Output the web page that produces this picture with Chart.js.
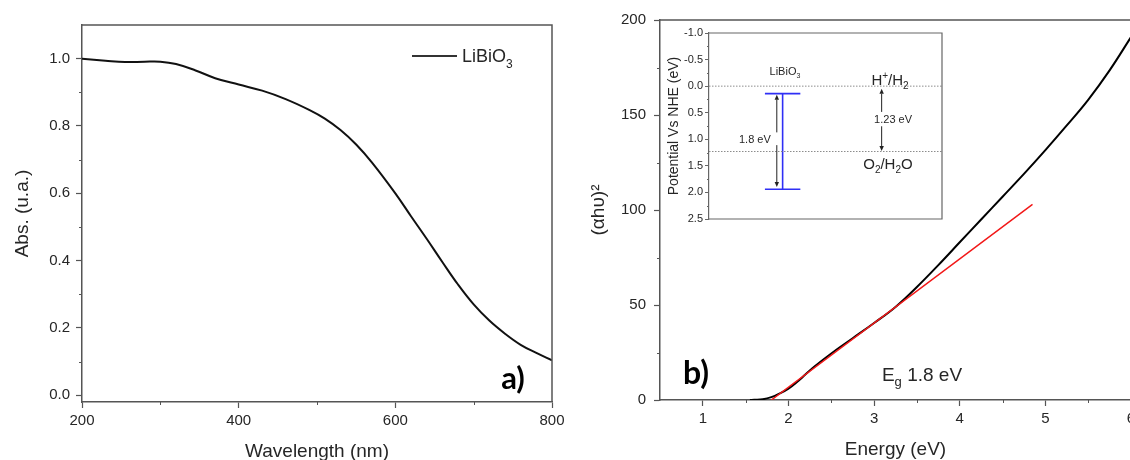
<!DOCTYPE html>
<html>
<head>
<meta charset="utf-8">
<script src="https://cdn.jsdelivr.net/npm/chart.js@4.4.1/dist/chart.umd.min.js"></script>
<style>
  html, body { margin: 0; padding: 0; background: #fff; overflow: hidden; }
  body { width: 1130px; height: 460px; position: relative; }
  canvas { position: absolute; }
  #absChart { left: 0; top: 0; }
  #taucChart { left: 580px; top: 0; }
  #bandChart { left: 660px; top: 25px; }
</style>
</head>
<body>
<canvas id="absChart" width="575" height="460"></canvas>
<canvas id="taucChart" width="575" height="460"></canvas>
<canvas id="bandChart" width="290" height="200"></canvas>
<script>
// a) UV-vis absorbance of LiBiO3
const wavelength = [200, 230, 255, 280, 300, 320, 345, 370, 400, 430, 460, 490, 510, 530, 550, 570, 600, 620, 640, 660, 680, 700, 720, 740, 760, 780, 800];
const absorbance = [1.000, 0.994, 0.990, 0.991, 0.991, 0.984, 0.965, 0.942, 0.923, 0.905, 0.880, 0.848, 0.822, 0.788, 0.745, 0.692, 0.600, 0.532, 0.465, 0.396, 0.329, 0.270, 0.222, 0.183, 0.150, 0.126, 0.104];
const absTicksX = [200, 400, 600, 800];
const absTicksY = [0, 0.2, 0.4, 0.6, 0.8, 1.0];

// b) Tauc plot and linear fit of the absorption edge
const energy = [1.55, 1.6, 1.7, 1.8, 1.9, 2.0, 2.1, 2.2, 2.3, 2.5, 2.75, 3.0, 3.25, 3.5, 3.75, 4.0, 4.25, 4.5, 4.75, 5.0, 5.25, 5.5, 5.75, 6.0];
const tauc = [0, 0.1, 0.4, 1.5, 3.5, 6, 9.5, 13.5, 17.5, 24.5, 32.5, 40.5, 49, 59.5, 71, 83, 95, 107, 119, 131.5, 144.5, 158, 173.5, 191];
const bandGap = 1.8;
const fitEnergy = [bandGap, 4.85];
const fitTauc = [0, 103];
const taucTicksX = [1, 2, 3, 4, 5, 6];
const taucTicksY = [0, 50, 100, 150, 200];

// inset: band edges vs NHE (eV)
const cbEdge = 0.14;
const vbEdge = cbEdge + bandGap;
const h2Level = 0.0;
const o2Level = 1.23;
const bandTicksY = [-1.0, -0.5, 0.0, 0.5, 1.0, 1.5, 2.0, 2.5];

const FONT = '"Liberation Sans", Arial, sans-serif';
const AXIS = '#555';
const TEXT = '#262626';
Chart.defaults.font.family = FONT;
Chart.defaults.color = TEXT;

function fixSize(size) {
  return scale => {
    if (scale.isHorizontal()) scale.height = size; else scale.width = size;
    scale.paddingLeft = scale.paddingRight = scale.paddingTop = scale.paddingBottom = 0;
  };
}
function useTicks(values) {
  return scale => { scale.ticks = values.map(v => ({ value: v })); };
}

// text with sub/superscripts; parts = [[text, ''|'sub'|'sup'], ...]
function drawRich(ctx, parts, x, y, size, opts = {}) {
  const family = opts.family || FONT;
  const weight = opts.weight || 'normal';
  const small = Math.round(size * 0.66);
  const fontFor = k => `${weight} ${k ? small : size}px ${family}`;
  let width = 0;
  for (const [t, k] of parts) { ctx.font = fontFor(k); width += ctx.measureText(t).width; }
  let cx = opts.align === 'left' ? x : x - width / 2;
  const base = y + size * 0.36;
  ctx.save();
  ctx.fillStyle = opts.color || TEXT;
  ctx.textAlign = 'left';
  ctx.textBaseline = 'alphabetic';
  for (const [t, k] of parts) {
    ctx.font = fontFor(k);
    const dy = k === 'sub' ? size * 0.28 : k === 'sup' ? -size * 0.4 : 0;
    ctx.fillText(t, cx, base + dy);
    cx += ctx.measureText(t).width;
  }
  ctx.restore();
}

function arrow(ctx, x, y1, y2, head) {
  const dir = Math.sign(y2 - y1);
  ctx.beginPath();
  ctx.moveTo(x, y1);
  ctx.lineTo(x, y2 - dir * head);
  ctx.stroke();
  ctx.beginPath();
  ctx.moveTo(x, y2);
  ctx.lineTo(x - 2.2, y2 - dir * head);
  ctx.lineTo(x + 2.2, y2 - dir * head);
  ctx.closePath();
  ctx.fill();
}

// minor ticks and the remaining edges of the frame
const framePlugin = {
  id: 'frame',
  afterDraw(chart, args, opts) {
    const { ctx, chartArea: a } = chart;
    ctx.save();
    ctx.strokeStyle = opts.color;
    ctx.lineWidth = opts.width;
    ctx.beginPath();
    ctx.moveTo(a.left, a.top);
    ctx.lineTo(a.right, a.top);
    ctx.lineTo(a.right, a.bottom);
    if (opts.bottom) ctx.lineTo(a.left, a.bottom);
    ctx.stroke();
    ctx.lineWidth = 1;
    for (const [id, m] of Object.entries(opts.minor || {})) {
      const s = chart.scales[id];
      for (let v = m.from; v <= m.to + 1e-9; v += m.step) {
        const p = Math.round(s.getPixelForValue(v)) + 0.5;
        ctx.beginPath();
        if (s.isHorizontal()) { ctx.moveTo(p, a.bottom); ctx.lineTo(p, a.bottom + m.len); }
        else { ctx.moveTo(a.left - m.len, p); ctx.lineTo(a.left, p); }
        ctx.stroke();
      }
    }
    ctx.restore();
  }
};

function axisStyle(tickLen, size, pad) {
  return {
    border: { color: AXIS, width: 1.5 },
    grid: { drawOnChartArea: false, drawTicks: true, tickLength: tickLen, tickColor: AXIS, tickWidth: 1.2 },
    ticks: { font: { size: size }, color: TEXT, padding: pad, autoSkip: false, maxRotation: 0, includeBounds: false }
  };
}

const baseOpts = {
  responsive: false,
  devicePixelRatio: 1,
  animation: false,
  events: [],
  plugins: { legend: { display: false }, tooltip: { enabled: false } }
};

// ---------- a) absorbance ----------
const absX = axisStyle(6, 15, 4);
const absY = axisStyle(6, 15, 6);
new Chart(document.getElementById('absChart'), {
  type: 'line',
  data: {
    datasets: [{
      data: wavelength.map((w, i) => ({ x: w, y: absorbance[i] })),
      borderColor: '#111',
      borderWidth: 2,
      pointRadius: 0,
      tension: 0.4
    }]
  },
  options: {
    ...baseOpts,
    layout: { padding: { top: 25, right: 23, bottom: 0, left: 0 } },
    scales: {
      x: {
        type: 'linear', min: 200, max: 800, ...absX,
        afterBuildTicks: useTicks(absTicksX), afterFit: fixSize(58),
        title: { display: true, text: 'Wavelength (nm)', font: { size: 19 }, color: TEXT, padding: { top: 0, bottom: -3 } }
      },
      y: {
        type: 'linear', min: -0.02, max: 1.1, ...absY,
        ticks: { ...absY.ticks, callback: v => v.toFixed(1) },
        afterBuildTicks: useTicks(absTicksY), afterFit: fixSize(82),
        title: { display: true, text: 'Abs. (u.a.)', font: { size: 19 }, color: TEXT, padding: { top: 11, bottom: 0 } }
      }
    },
    plugins: {
      ...baseOpts.plugins,
      frame: {
        color: AXIS, width: 1.5,
        minor: { x: { from: 300, to: 700, step: 200, len: 3 }, y: { from: 0.1, to: 0.9, step: 0.2, len: 3 } }
      }
    }
  },
  plugins: [framePlugin, {
    id: 'absLabels',
    afterDraw(chart) {
      const { ctx, chartArea: a } = chart;
      ctx.save();
      ctx.strokeStyle = '#333';
      ctx.lineWidth = 2;
      ctx.beginPath();
      ctx.moveTo(a.right - 140, a.top + 31);
      ctx.lineTo(a.right - 95, a.top + 31);
      ctx.stroke();
      ctx.restore();
      drawRich(ctx, [['LiBiO', ''], ['3', 'sub']], a.right - 90, a.top + 31, 18, { align: 'left' });
      drawRich(ctx, [['a)', '']], a.right - 39, a.bottom - 24, 31, { family: 'Lato, sans-serif', weight: 'bold', color: '#000' });
    }
  }]
});

// ---------- b) Tauc plot ----------
const taucX = axisStyle(6, 15, 4);
const taucY = axisStyle(6, 15, 8);
new Chart(document.getElementById('taucChart'), {
  type: 'line',
  data: {
    datasets: [{
      data: energy.map((e, i) => ({ x: e, y: tauc[i] })),
      borderColor: '#000',
      borderWidth: 2,
      pointRadius: 0,
      tension: 0.4,
      order: 1
    }, {
      data: fitEnergy.map((e, i) => ({ x: e, y: fitTauc[i] })),
      borderColor: '#f21818',
      borderWidth: 1.5,
      pointRadius: 0,
      order: 0
    }]
  },
  options: {
    ...baseOpts,
    layout: { padding: { top: 20, right: 24, bottom: 0, left: 0 } },
    scales: {
      x: {
        type: 'linear', min: 0.5, max: 6, ...taucX,
        afterBuildTicks: useTicks(taucTicksX), afterFit: fixSize(60),
        title: { display: true, text: 'Energy (eV)', font: { size: 19 }, color: TEXT, padding: { top: 0, bottom: -1 } }
      },
      y: {
        type: 'linear', min: 0, max: 200, ...taucY,
        afterBuildTicks: useTicks(taucTicksY), afterFit: fixSize(80),
        title: { display: true, text: '(αhυ)²', font: { size: 19 }, color: TEXT, padding: { top: 7, bottom: 0 } }
      }
    },
    plugins: {
      ...baseOpts.plugins,
      frame: {
        color: AXIS, width: 1.5,
        minor: { x: { from: 1.5, to: 5.5, step: 1, len: 3 }, y: { from: 25, to: 175, step: 50, len: 3 } }
      }
    }
  },
  plugins: [framePlugin, {
    id: 'taucLabels',
    afterDraw(chart) {
      const { ctx, chartArea: a } = chart;
      drawRich(ctx, [['b)', '']], a.left + 36, a.bottom - 28, 32, { family: 'Lato, sans-serif', weight: 'bold', color: '#000' });
      drawRich(ctx, [['E', ''], ['g', 'sub'], [' ' + bandGap.toFixed(1) + ' eV', '']], a.left + 262, a.bottom - 26, 19);
    }
  }]
});

// ---------- inset: band positions ----------
const bandX = 0.316, capHalf = 0.076;
const gapArrowX = 0.291, redoxArrowX = 0.741;
const bandAxis = axisStyle(4, 11, 2);
bandAxis.border = { color: '#666', width: 1.2 };
bandAxis.grid.tickColor = '#666';
bandAxis.grid.tickWidth = 1;
const seg = (x1, y1, x2, y2) => [{ x: x1, y: y1 }, { x: x2, y: y2 }];
const blue = { borderColor: '#2f2ff5', borderWidth: 1.6, pointRadius: 0 };
const dotted = { borderColor: '#8c8c8c', borderWidth: 1, borderDash: [1.5, 1.5], pointRadius: 0 };
new Chart(document.getElementById('bandChart'), {
  type: 'line',
  data: {
    datasets: [
      { data: seg(0, h2Level, 1, h2Level), ...dotted },
      { data: seg(0, o2Level, 1, o2Level), ...dotted },
      { data: seg(bandX, cbEdge, bandX, vbEdge), ...blue },
      { data: seg(bandX - capHalf, cbEdge, bandX + capHalf, cbEdge), ...blue },
      { data: seg(bandX - capHalf, vbEdge, bandX + capHalf, vbEdge), ...blue }
    ]
  },
  options: {
    ...baseOpts,
    layout: { padding: { top: 8, right: 8, bottom: 6, left: 0 } },
    scales: {
      x: { type: 'linear', min: 0, max: 1, display: false },
      y: {
        type: 'linear', min: -1, max: 2.5, reverse: true, ...bandAxis,
        ticks: { ...bandAxis.ticks, callback: v => v.toFixed(1) },
        afterBuildTicks: useTicks(bandTicksY), afterFit: fixSize(49),
        title: { display: true, text: 'Potential Vs NHE (eV)', font: { size: 14 }, color: TEXT, padding: { top: 6, bottom: 0 } }
      }
    },
    plugins: {
      ...baseOpts.plugins,
      frame: { color: '#666', width: 1.2, bottom: true, minor: { y: { from: -0.75, to: 2.25, step: 0.5, len: 2 } } }
    }
  },
  plugins: [framePlugin, {
    id: 'bandLabels',
    afterDraw(chart) {
      const { ctx, scales: { x, y } } = chart;
      const px = v => x.getPixelForValue(v);
      const py = v => y.getPixelForValue(v);
      ctx.save();
      ctx.strokeStyle = '#222';
      ctx.fillStyle = '#222';
      ctx.lineWidth = 1;
      // band gap arrow, split around its label
      const gapMid = (cbEdge + vbEdge) / 2;
      arrow(ctx, px(gapArrowX), py(gapMid - 0.17), py(cbEdge + 0.02), 5);
      arrow(ctx, px(gapArrowX), py(gapMid + 0.07), py(vbEdge - 0.04), 5);
      // water redox window arrow
      const redoxMid = (h2Level + o2Level) / 2;
      arrow(ctx, px(redoxArrowX), py(redoxMid - 0.13), py(h2Level + 0.05), 5);
      arrow(ctx, px(redoxArrowX), py(redoxMid + 0.14), py(o2Level - 0.01), 5);
      ctx.restore();
      drawRich(ctx, [['LiBiO', ''], ['3', 'sub']], px(0.326), py(-0.28), 11);
      drawRich(ctx, [[bandGap.toFixed(1) + ' eV', '']], px(0.197), py(gapMid - 0.05), 11);
      drawRich(ctx, [['H', ''], ['+', 'sup'], ['/H', ''], ['2', 'sub']], px(0.777), py(h2Level - 0.12), 15);
      drawRich(ctx, [[o2Level.toFixed(2) + ' eV', '']], px(0.79), py(redoxMid), 11);
      drawRich(ctx, [['O', ''], ['2', 'sub'], ['/H', ''], ['2', 'sub'], ['O', '']], px(0.768), py(1.46), 15);
    }
  }]
});
</script>
</body>
</html>
